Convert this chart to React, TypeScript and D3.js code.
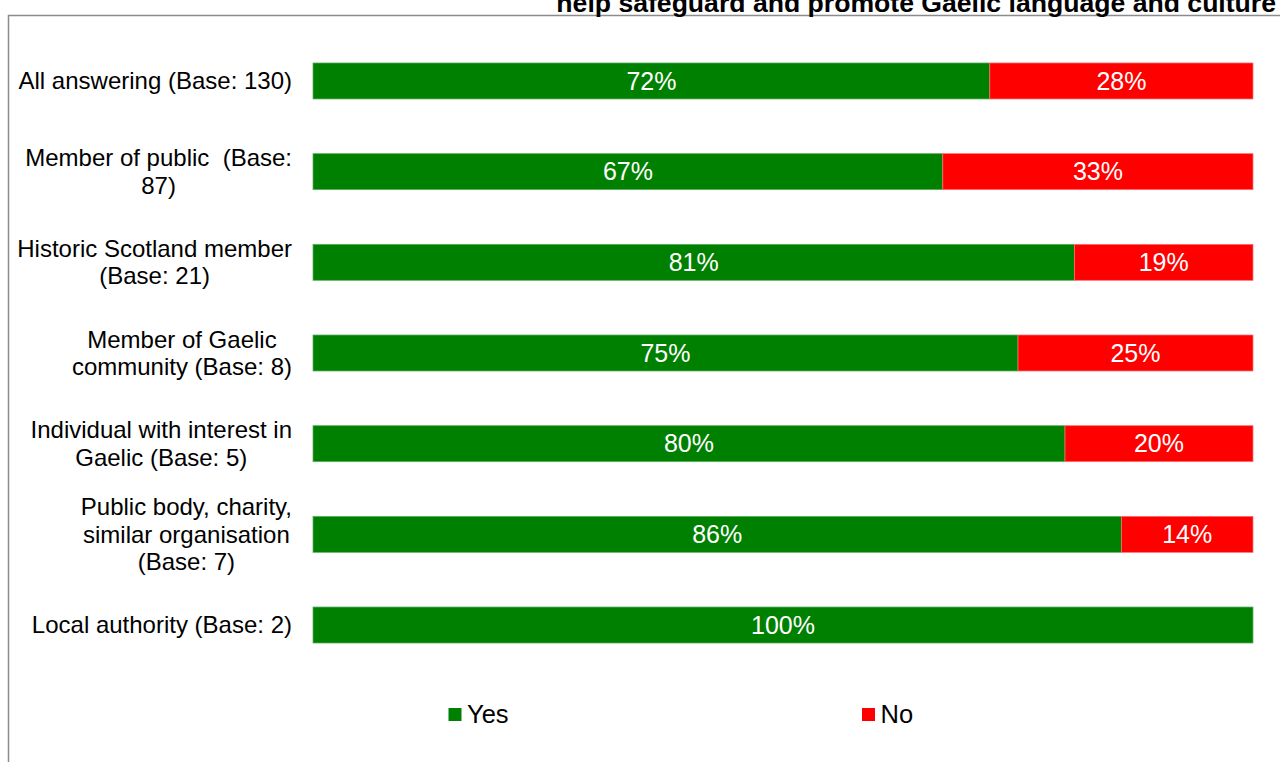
import React from "react";
import * as d3 from "d3";

const categories: string[][] = [
  ["All answering (Base: 130)"],
  ["Member of public  (Base:", "87)"],
  ["Historic Scotland member", "(Base: 21)"],
  ["Member of Gaelic", "community (Base: 8)"],
  ["Individual with interest in", "Gaelic (Base: 5)"],
  ["Public body, charity,", "similar organisation", "(Base: 7)"],
  ["Local authority (Base: 2)"],
];
const yesValues = [72, 67, 81, 75, 80, 86, 100];
const noValues = [28, 33, 19, 25, 20, 14, 0];
const seriesNames = ["Yes", "No"];
const seriesColors = ["#008000", "#FF0000"];
const titleText = "help safeguard and promote Gaelic language and culture";

const W = 1280;
const H = 762;
const FONT = "'Liberation Sans', Arial, sans-serif";
const LABEL_SIZE = 24;

let ctx: CanvasRenderingContext2D | null = null;
function measure(text: string, size: number, weight = "normal"): number {
  if (!ctx) {
    const c = document.createElement("canvas");
    ctx = c.getContext("2d");
  }
  if (!ctx) return text.length * size * 0.5;
  ctx.font = `${weight} ${size}px 'Liberation Sans', Arial, sans-serif`;
  return ctx.measureText(text).width;
}

export default function App() {
  const keys = categories.map((c) => c.join(" "));
  const x = d3.scaleLinear().domain([0, 100]).range([313, 1253]);
  const y = d3.scaleBand<string>().domain(keys).range([8.3, 697.7]).padding(0.603);
  const bw = y.bandwidth();
  const lineH = 27.5;
  const labelRight = 292;

  return (
    <svg width={W} height={H} style={{ position: "absolute", left: 0, top: 0, fontFamily: FONT }}>
      <rect x={0} y={0} width={W} height={H} fill="#ffffff" />
      <path d={`M8.5,${H} V15.5 H${W}`} fill="none" stroke="#8c8c8c" strokeWidth={1.5} />
      <text
        x={1276}
        y={12}
        textAnchor="end"
        fontWeight="bold"
        fontSize={26.6}
        fill="#000"
      >
        {titleText}
      </text>
      {categories.map((lines, i) => {
        const key = keys[i];
        const cy = (y(key) as number) + bw / 2;
        const maxW = Math.max(...lines.map((l) => measure(l, LABEL_SIZE)));
        const cx = labelRight - maxW / 2;
        const n = lines.length;
        return (
          <g key={key}>
            {lines.map((l, j) => (
              <text
                key={j}
                x={cx}
                y={cy + (j - (n - 1) / 2) * lineH}
                dy="0.35em"
                textAnchor="middle"
                fontSize={LABEL_SIZE}
                fill="#000"
                style={{ whiteSpace: "pre" }}
              >
                {l}
              </text>
            ))}
          </g>
        );
      })}
      {keys.map((key, i) => {
        const y0 = y(key) as number;
        const segs = [
          { v0: 0, v1: yesValues[i], color: seriesColors[0], stroke: "#5fae5f" },
          { v0: yesValues[i], v1: yesValues[i] + noValues[i], color: seriesColors[1], stroke: "#ff7070" },
        ];
        return (
          <g key={key}>
            {segs.map((s, j) =>
              s.v1 > s.v0 ? (
                <g key={j}>
                  <rect
                    x={x(s.v0)}
                    y={y0}
                    width={x(s.v1) - x(s.v0)}
                    height={bw}
                    fill={s.color}
                    stroke={s.stroke}
                    strokeWidth={0.75}
                  />
                  <text
                    x={(x(s.v0) + x(s.v1)) / 2}
                    y={y0 + bw / 2}
                    dy="0.35em"
                    textAnchor="middle"
                    fontSize={25}
                    fill="#ffffff"
                  >
                    {`${s.v1 - s.v0}%`}
                  </text>
                </g>
              ) : null
            )}
          </g>
        );
      })}
      {seriesNames.map((name, i) => {
        const lx = [448.5, 862][i];
        return (
          <g key={name}>
            <rect x={lx} y={708} width={13} height={13} fill={seriesColors[i]} />
            <text x={lx + 18.5} y={714.5} dy="0.35em" fontSize={25.5} fill="#000">
              {name}
            </text>
          </g>
        );
      })}
    </svg>
  );
}
